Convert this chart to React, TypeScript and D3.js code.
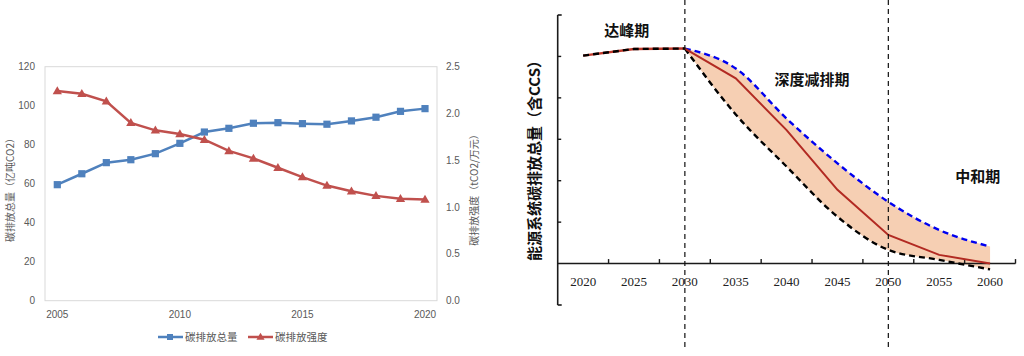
import React from "react";
import * as d3 from "d3";

// ---------- Left chart data ----------
const leftYears = [2005, 2006, 2007, 2008, 2009, 2010, 2011, 2012, 2013, 2014, 2015, 2016, 2017, 2018, 2019, 2020];
const totalEmissions = [59.5, 65.1, 70.8, 72.3, 75.4, 80.7, 86.5, 88.4, 91.0, 91.3, 90.8, 90.5, 92.2, 94.1, 97.1, 98.5];
const emissionIntensity = [2.24, 2.21, 2.13, 1.9, 1.82, 1.78, 1.72, 1.6, 1.52, 1.42, 1.32, 1.23, 1.17, 1.12, 1.09, 1.08];
const leftXTicks = [2005, 2010, 2015, 2020];
const leftYTicks = [0, 20, 40, 60, 80, 100, 120];
const rightYTicks = [0, 0.5, 1.0, 1.5, 2.0, 2.5];
const legendNames = ["碳排放总量", "碳排放强度"];

// ---------- Right chart data ----------
const peakYears = [2020, 2025, 2030];
const peakValues = [5.02, 5.18, 5.19];
const scenarioYears = [2030, 2035, 2040, 2045, 2050, 2055, 2060];
const upperValues = [5.19, 4.71, 3.5, 2.42, 1.49, 0.81, 0.41];
const middleValues = [5.19, 4.47, 3.22, 1.78, 0.69, 0.21, 0.0];
const lowerValues = [5.19, 3.6, 2.34, 1.13, 0.33, 0.09, -0.14];
const rightXLabels = [2020, 2025, 2030, 2035, 2040, 2045, 2050, 2055, 2060];
const rightXTickMarks = [2022.5, 2027.5, 2032.5, 2037.5, 2042.5, 2047.5, 2052.5, 2057.5, 2062.5];
const rightYTickMarks = [1, 2, 3, 4, 5];
const phaseLines = [2030, 2050];
const phaseLabels = [
  { text: "达峰期", year: 2024.3, v: 5.63 },
  { text: "深度减排期", year: 2042.5, v: 4.44 },
  { text: "中和期", year: 2058.8, v: 2.1 },
];

const BLUE = "#4F81BD";
const RED = "#C0504D";
const GRAY = "#595959";
const CJK = "'Noto Sans CJK SC', 'Noto Sans', sans-serif";
const SERIF = "'Liberation Serif', 'DejaVu Serif', serif";

function LeftChart() {
  const x = d3.scaleLinear().domain([2005, 2020]).range([57.3, 425]);
  const y = d3.scaleLinear().domain([0, 120]).range([300.7, 66.7]);
  const y2 = d3.scaleLinear().domain([0, 2.5]).range([300.7, 66.7]);
  const lineT = d3.line<number>().x((_, i) => x(leftYears[i])).y((d) => y(d));
  const lineI = d3.line<number>().x((_, i) => x(leftYears[i])).y((d) => y2(d));
  const tri = (cx: number, cy: number, s: number) =>
    `M${cx},${cy - s * 0.6} L${cx + s * 0.58},${cy + s * 0.4} L${cx - s * 0.58},${cy + s * 0.4} Z`;
  return (
    <g>
      <rect x={45} y={66.7} width={392} height={234} fill="none" stroke="#D9D9D9" strokeWidth={1} />
      {leftYTicks.map((t) => (
        <text key={t} x={35} y={y(t)} dy="0.35em" textAnchor="end" fontSize={10} fill={GRAY} fontFamily="'Liberation Sans', Arial, sans-serif">
          {t}
        </text>
      ))}
      {rightYTicks.map((t) => (
        <text key={t} x={446} y={y2(t)} dy="0.35em" textAnchor="start" fontSize={10} fill={GRAY} fontFamily="'Liberation Sans', Arial, sans-serif">
          {t.toFixed(1)}
        </text>
      ))}
      {leftXTicks.map((t) => (
        <text key={t} x={x(t)} y={314} dy="0.35em" textAnchor="middle" fontSize={10} fill={GRAY} fontFamily="'Liberation Sans', Arial, sans-serif">
          {t}
        </text>
      ))}
      <text transform="translate(10,187.5) rotate(-90)" textAnchor="middle" dy="0.35em" fontSize={10} fill={GRAY} fontFamily={CJK}>
        碳排放总量（亿吨CO2）
      </text>
      <text transform="translate(474,187.5) rotate(-90)" textAnchor="middle" dy="0.35em" fontSize={10} fill={GRAY} fontFamily={CJK}>
        碳排放强度（tCO2/万元）
      </text>
      <path d={lineT(totalEmissions) || ""} fill="none" stroke={BLUE} strokeWidth={2.5} />
      <path d={lineI(emissionIntensity) || ""} fill="none" stroke={RED} strokeWidth={2.5} />
      {totalEmissions.map((v, i) => (
        <rect key={i} x={x(leftYears[i]) - 3.6} y={y(v) - 3.6} width={7.2} height={7.2} fill={BLUE} />
      ))}
      {emissionIntensity.map((v, i) => (
        <path key={i} d={tri(x(leftYears[i]), y2(v), 8)} fill={RED} />
      ))}
      {/* legend */}
      <line x1={158} x2={183} y1={337} y2={337} stroke={BLUE} strokeWidth={2.5} />
      <rect x={167} y={334} width={6} height={6} fill={BLUE} />
      <text x={185} y={337} dy="0.35em" fontSize={10.5} fill={GRAY} fontFamily={CJK}>{legendNames[0]}</text>
      <line x1={248} x2={273} y1={337} y2={337} stroke={RED} strokeWidth={2.5} />
      <path d={tri(260.5, 337, 7)} fill={RED} />
      <text x={275} y={337} dy="0.35em" fontSize={10.5} fill={GRAY} fontFamily={CJK}>{legendNames[1]}</text>
    </g>
  );
}

function RightChart() {
  const x = d3.scaleLinear().domain([2017.5, 2062.5]).range([557.7, 1015.5]);
  const y = d3.scaleLinear().domain([-1, 6]).range([305, 15]);
  const y0 = y(0);
  const linePeak = d3.line<number>().x((_, i) => x(peakYears[i])).y((d) => y(d));
  const smooth = d3.line<number>().x((_, i) => x(scenarioYears[i])).y((d) => y(d)).curve(d3.curveMonotoneX);
  const straight = d3.line<number>().x((_, i) => x(scenarioYears[i])).y((d) => y(d));
  const band = d3
    .area<number>()
    .x((_, i) => x(scenarioYears[i]))
    .y0((_, i) => y(lowerValues[i]))
    .y1((d) => y(d))
    .curve(d3.curveMonotoneX);
  const axisX = x(2017.5);
  return (
    <g>
      <path d={band(upperValues) || ""} fill="#F6CFB3" stroke="none" />
      {/* y axis */}
      <line x1={axisX} x2={axisX} y1={y(6)} y2={y(-1)} stroke="#1a1a1a" strokeWidth={1.6} />
      <line x1={axisX} x2={axisX + 4} y1={y(6)} y2={y(6)} stroke="#1a1a1a" strokeWidth={1.6} />
      <line x1={axisX} x2={axisX + 4} y1={y(-1)} y2={y(-1)} stroke="#1a1a1a" strokeWidth={1.6} />
      {rightYTickMarks.map((t) => (
        <line key={t} x1={axisX} x2={axisX + 3.5} y1={y(t)} y2={y(t)} stroke="#1a1a1a" strokeWidth={1.4} />
      ))}
      {/* x axis */}
      <line x1={axisX} x2={x(2062.5)} y1={y0} y2={y0} stroke="#1a1a1a" strokeWidth={1.6} />
      {rightXTickMarks.map((t) => (
        <line key={t} x1={x(t)} x2={x(t)} y1={y0} y2={y0 - 4.5} stroke="#1a1a1a" strokeWidth={1.4} />
      ))}
      {rightXLabels.map((t) => (
        <text key={t} x={x(t)} y={281.5} dy="0.35em" textAnchor="middle" fontSize={13} fill="#222" fontFamily={SERIF}>
          {t}
        </text>
      ))}
      <text transform="translate(535,157) rotate(-90)" textAnchor="middle" dy="0.35em" fontSize={15} fontWeight={600} fill="#111" fontFamily={CJK}>
        能源系统碳排放总量（含CCS）
      </text>
      {/* scenario lines */}
      <path d={smooth(upperValues) || ""} fill="none" stroke="#0000F0" strokeWidth={2.4} strokeDasharray="6,4" />
      <path d={smooth(lowerValues) || ""} fill="none" stroke="#000" strokeWidth={2.4} strokeDasharray="6,4" />
      <path d={straight(middleValues) || ""} fill="none" stroke="#B22A22" strokeWidth={2} />
      {/* peak period */}
      <path d={linePeak(peakValues) || ""} fill="none" stroke="#C0392B" strokeWidth={2.4} />
      <path d={linePeak(peakValues) || ""} fill="none" stroke="#000" strokeWidth={2.4} strokeDasharray="6,4" />
      {/* phase boundaries */}
      {phaseLines.map((t) => (
        <line key={t} x1={x(t)} x2={x(t)} y1={0} y2={351} stroke="#111" strokeWidth={1.2} strokeDasharray="5,4" />
      ))}
      {phaseLabels.map((p) => (
        <text key={p.text} x={x(p.year)} y={y(p.v)} dy="0.35em" textAnchor="middle" fontSize={15} fontWeight={700} fill="#111" fontFamily={CJK}>
          {p.text}
        </text>
      ))}
    </g>
  );
}

export default function App() {
  return (
    <svg width={1024} height={356} style={{ position: "absolute", left: 0, top: 0, background: "#fff" }}>
      <rect x={0} y={0} width={1024} height={356} fill="#fff" />
      <LeftChart />
      <RightChart />
    </svg>
  );
}
